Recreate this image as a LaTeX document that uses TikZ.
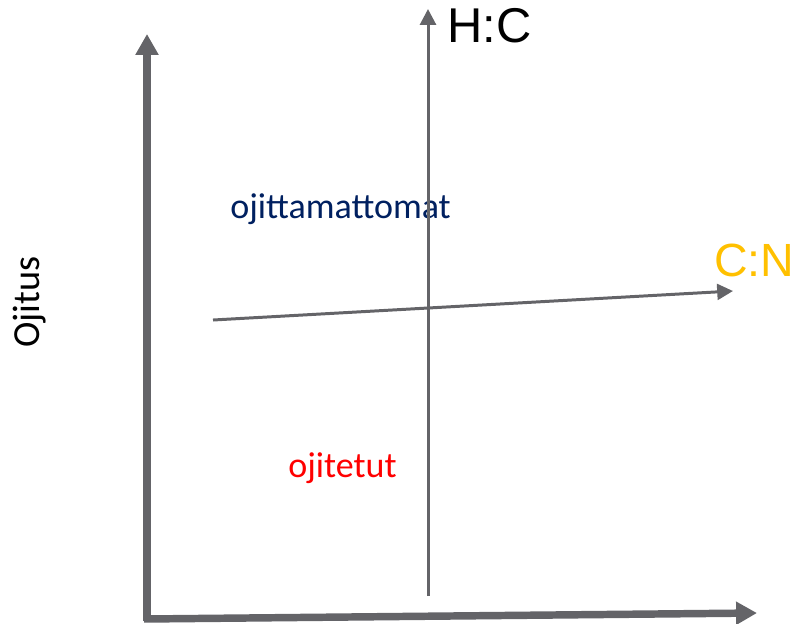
\documentclass[tikz,border=0pt]{standalone}
\usepackage{fontspec}
\setmainfont{Liberation Sans}
\newfontfamily\calfont{Carlito}
\usetikzlibrary{arrows.meta}

\definecolor{axisgray}{HTML}{646468}
\definecolor{navyblue}{HTML}{002060}
\definecolor{cnyellow}{HTML}{FFC000}

\tikzset{
  mainaxis/.style={draw=axisgray, line width=4.25pt, -{Triangle[length=11.9pt,width=12.5pt]}},
  ratioaxis/.style={draw=axisgray, line width=1.7pt, -{Triangle[length=9pt,width=9pt]}},
  grouplabel/.style={font=\calfont\fontsize{20.5}{23}\selectfont, inner sep=0pt, anchor=base west},
}

\begin{document}
\begin{tikzpicture}[x=0.02cm, y=-0.02cm]
    \useasboundingbox (0,0) rectangle (804,623);

    % labels
    \node[grouplabel, text=navyblue] (ojm) at (230,218) {ojittamattomat};
    \node[grouplabel, text=red] (oje) at (288,477) {ojitetut};
    \node[grouplabel, rotate=90, font=\calfont\fontsize{21.8}{24}\selectfont] (ojitus) at (39,348) {Ojitus};
    \node[inner sep=0pt, anchor=base west, font=\fontsize{27.8}{30}\selectfont] (hc) at (447,42) {H:C};
    \node[inner sep=0pt, anchor=base west, text=cnyellow, font=\fontsize{26.5}{29}\selectfont] (cn) at (714,276) {C:N};

    % axis end points
    \coordinate (orig) at (147,621);
    \coordinate (ytop) at (147,34);
    \coordinate (xl) at (144,619);
    \coordinate (xr) at (757,613);
    \coordinate (hcb) at (428,596);
    \coordinate (hct) at (428,9);
    \coordinate (cnl) at (213,320);
    \coordinate (cnr) at (733,291);

    \draw[mainaxis] (orig) -- (ytop);
    \draw[mainaxis] (xl) -- (xr);
    \draw[ratioaxis] (hcb) -- (hct);
    \draw[ratioaxis] (cnl) -- (cnr);
\end{tikzpicture}
\end{document}
